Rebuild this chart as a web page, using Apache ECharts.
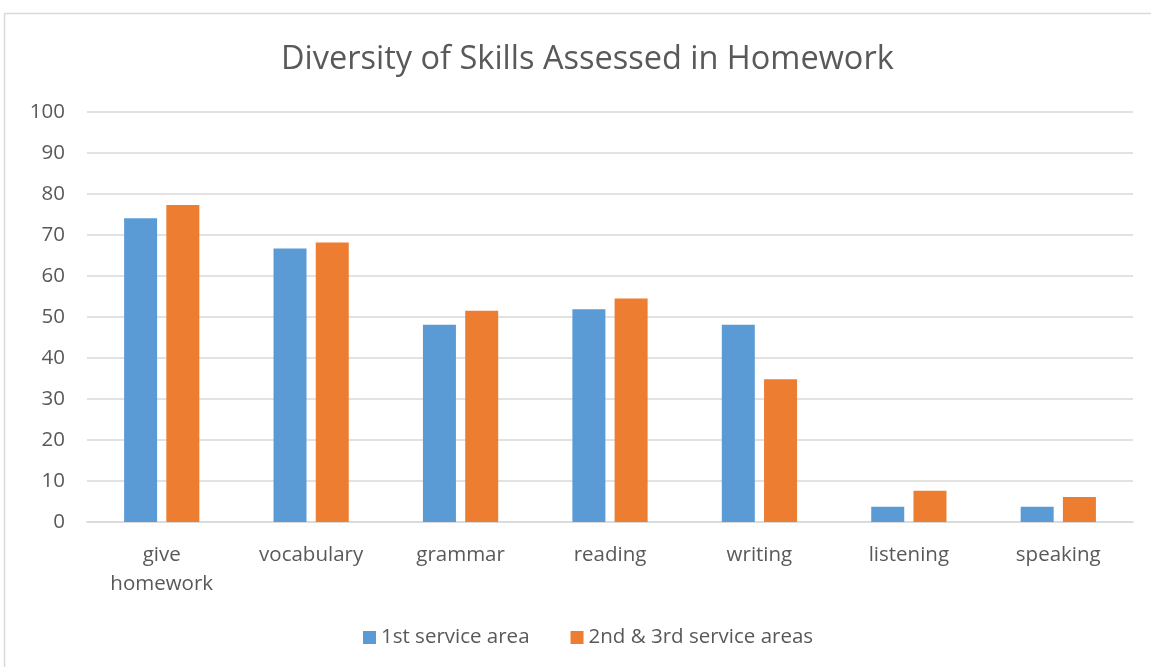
<!DOCTYPE html>
<html>
<head>
<meta charset="utf-8">
<script src="https://cdn.jsdelivr.net/npm/echarts@6/dist/echarts.min.js"></script>
<style>html,body{margin:0;padding:0;background:#fff}#c{width:1151px;height:667px}</style>
</head>
<body>
<div id="c"></div>
<script>
const categories = ['give\nhomework', 'vocabulary', 'grammar', 'reading', 'writing', 'listening', 'speaking'];
const seriesNames = ['1st service area', '2nd & 3rd service areas'];
const firstArea = [74.1, 66.7, 48.1, 51.9, 48.1, 3.7, 3.7];
const secondThirdAreas = [77.3, 68.2, 51.5, 54.5, 34.8, 7.6, 6.1];
const yTicks = { min: 0, max: 100, interval: 10 };

const chart = echarts.init(document.getElementById('c'));
const font = 'Open Sans';
chart.setOption({
  animation: false,
  graphic: [{
    type: 'rect', shape: { x: 4.5, y: 13.5, width: 1160, height: 700 },
    style: { fill: 'none', stroke: '#d9d9d9', lineWidth: 1.5 }, silent: true
  }],
  title: {
    text: 'Diversity of Skills Assessed in Homework',
    left: 276, top: 38,
    textStyle: { fontFamily: font, fontWeight: 'normal', fontSize: 32.5, color: '#595959' }
  },
  legend: {
    bottom: 14, left: 358, itemWidth: 13, itemHeight: 13, itemGap: 41,
    icon: 'rect',
    textStyle: { fontFamily: font, fontSize: 20.5, color: '#595959' },
    data: seriesNames
  },
  grid: { left: 87, right: 18, top: 112, bottom: 145, containLabel: false },
  xAxis: {
    type: 'category', data: categories,
    axisLine: { lineStyle: { color: '#d9d9d9', width: 1.5 } },
    axisTick: { show: false },
    axisLabel: { fontFamily: font, fontSize: 20.5, color: '#595959', margin: 19, lineHeight: 29 }
  },
  yAxis: {
    type: 'value', min: yTicks.min, max: yTicks.max, interval: yTicks.interval,
    axisLine: { show: false }, axisTick: { show: false },
    axisLabel: { fontFamily: font, fontSize: 20.5, color: '#595959', margin: 22 },
    splitLine: { lineStyle: { color: '#d9d9d9', width: 1.5 } }
  },
  series: [
    { name: seriesNames[0], type: 'bar', data: firstArea, barWidth: 33, barGap: '28%',
      itemStyle: { color: '#5B9BD5' } },
    { name: seriesNames[1], type: 'bar', data: secondThirdAreas, barWidth: 33,
      itemStyle: { color: '#ED7D31' } }
  ]
});
</script>
</body>
</html>
